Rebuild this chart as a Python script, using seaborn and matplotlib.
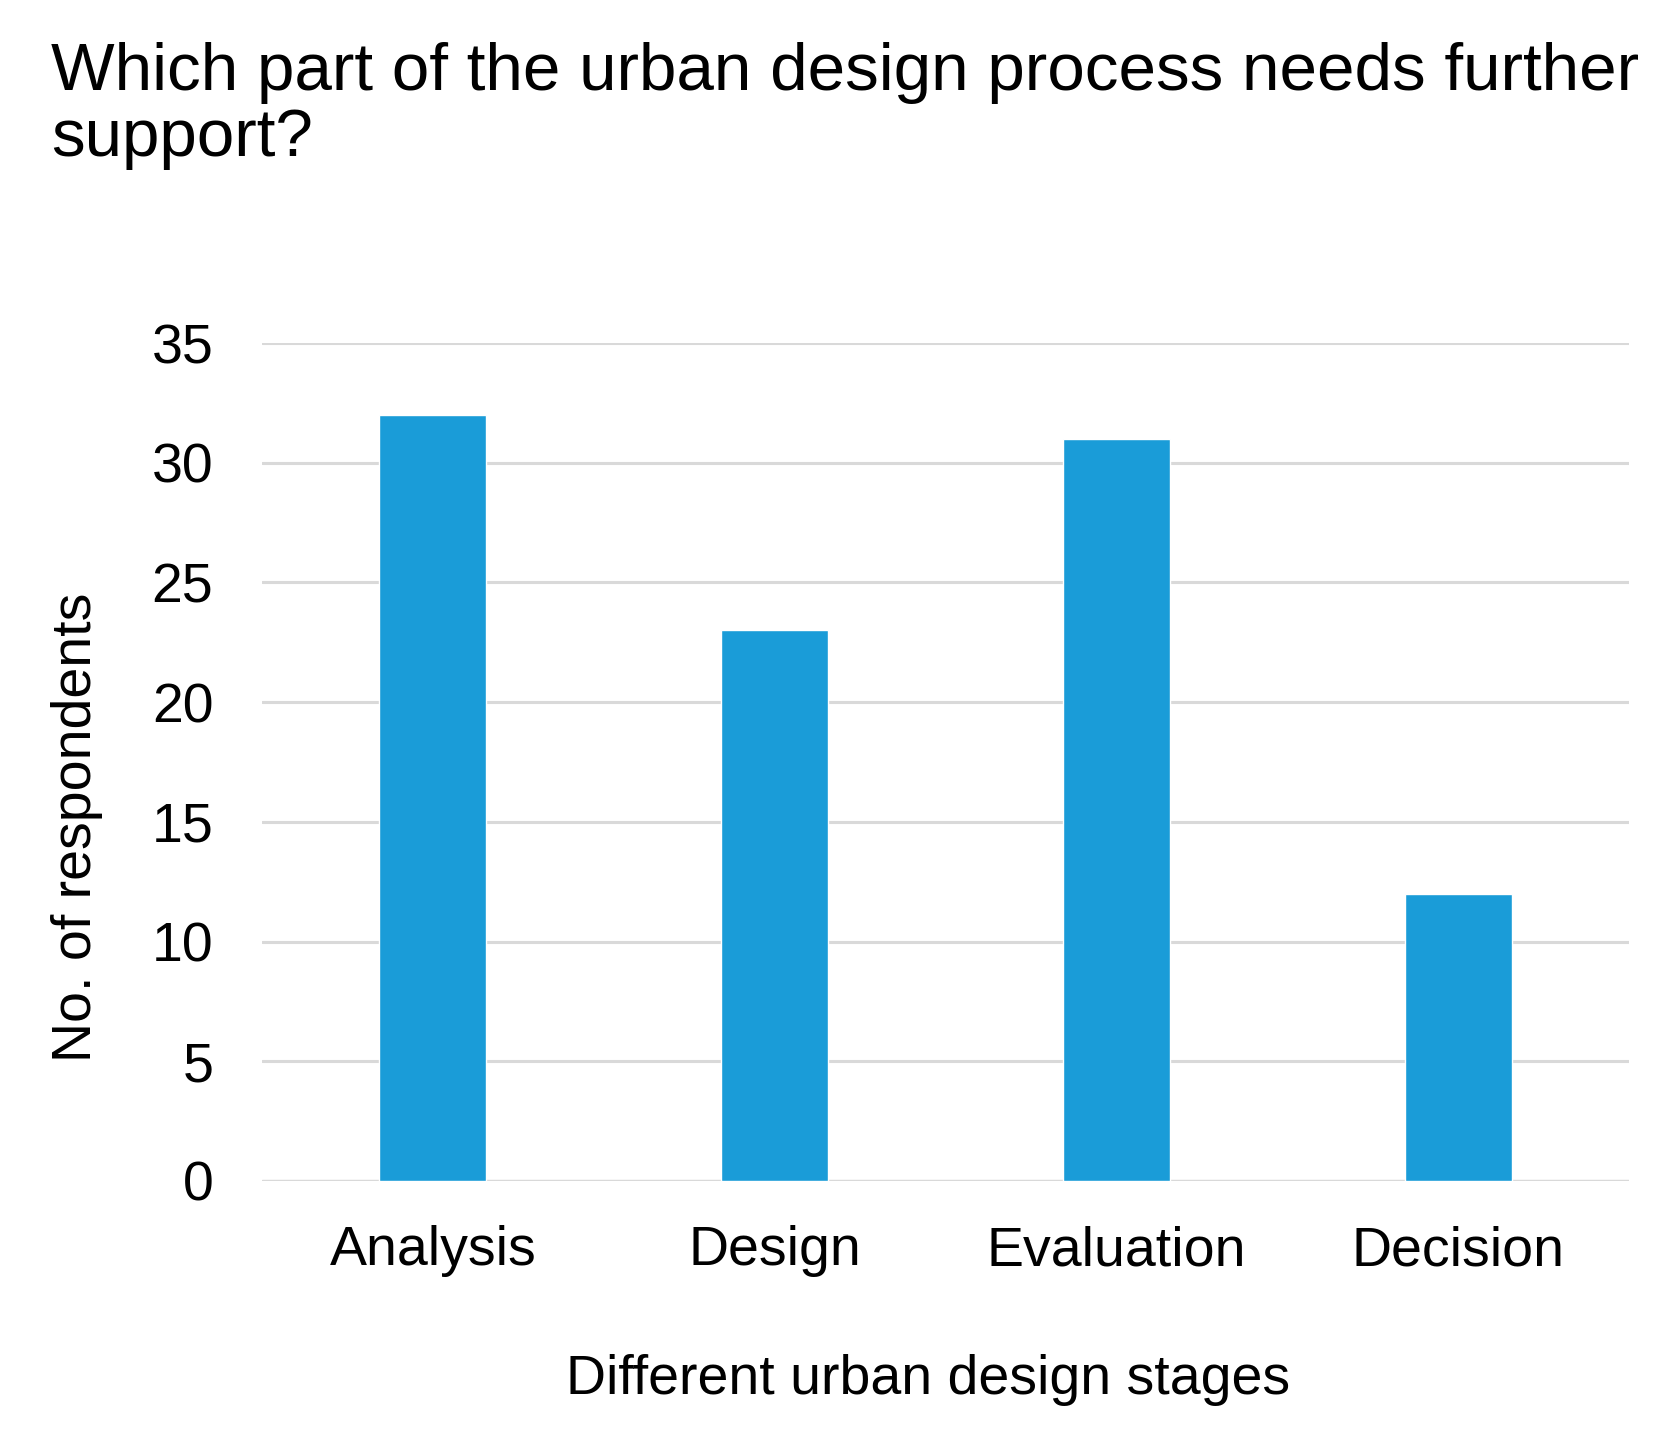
import pandas as pd
import matplotlib
matplotlib.use('Agg')
import matplotlib.pyplot as plt
import seaborn as sns

# Данные
stages = ['Analysis', 'Design', 'Evaluation', 'Decision']
respondents = [32, 23, 31, 12]

df = pd.DataFrame({'stage': stages, 'count': respondents})

sns.set_style('white')
plt.rcParams['font.family'] = ['Liberation Sans', 'DejaVu Sans']
plt.rcParams['text.color'] = 'black'
plt.rcParams['axes.labelcolor'] = 'black'
plt.rcParams['xtick.color'] = 'black'
plt.rcParams['ytick.color'] = 'black'

fig = plt.figure(figsize=(16.64, 14.33), dpi=100)
ax = fig.add_axes([0.1575, 0.1759, 0.8215, 0.5847])

sns.barplot(x='stage', y='count', data=df, color='#1A9CD8', width=0.313,
            saturation=1, ax=ax, zorder=3)

ax.set_ylim(0, 35)
ax.set_yticks(range(0, 36, 5))
ax.set_xlim(-0.5, 3.5)
ax.yaxis.grid(True, color='#D9D9D9', linewidth=2.2, zorder=0)
ax.set_axisbelow(True)
sns.despine(ax=ax, left=True, top=True, right=True, bottom=True)
ax.axhline(0, color='#D9D9D9', linewidth=2.4, zorder=1)

ax.tick_params(axis='y', length=0, pad=35, labelsize=40)
ax.tick_params(axis='x', length=0, pad=32, labelsize=40)

ax.set_xlabel('Different urban design stages', fontsize=40)
ax.set_ylabel('No. of respondents', fontsize=40)
ax.xaxis.set_label_coords(0.487, -0.207)
ax.yaxis.set_label_coords(-0.1163, 0.4225)

fig.text(0.0307, 0.971, 'Which part of the urban design process needs further\nsupport?',
         fontsize=48.5, ha='left', va='top', linespacing=1.1)

fig.savefig('out.png', dpi=100)
